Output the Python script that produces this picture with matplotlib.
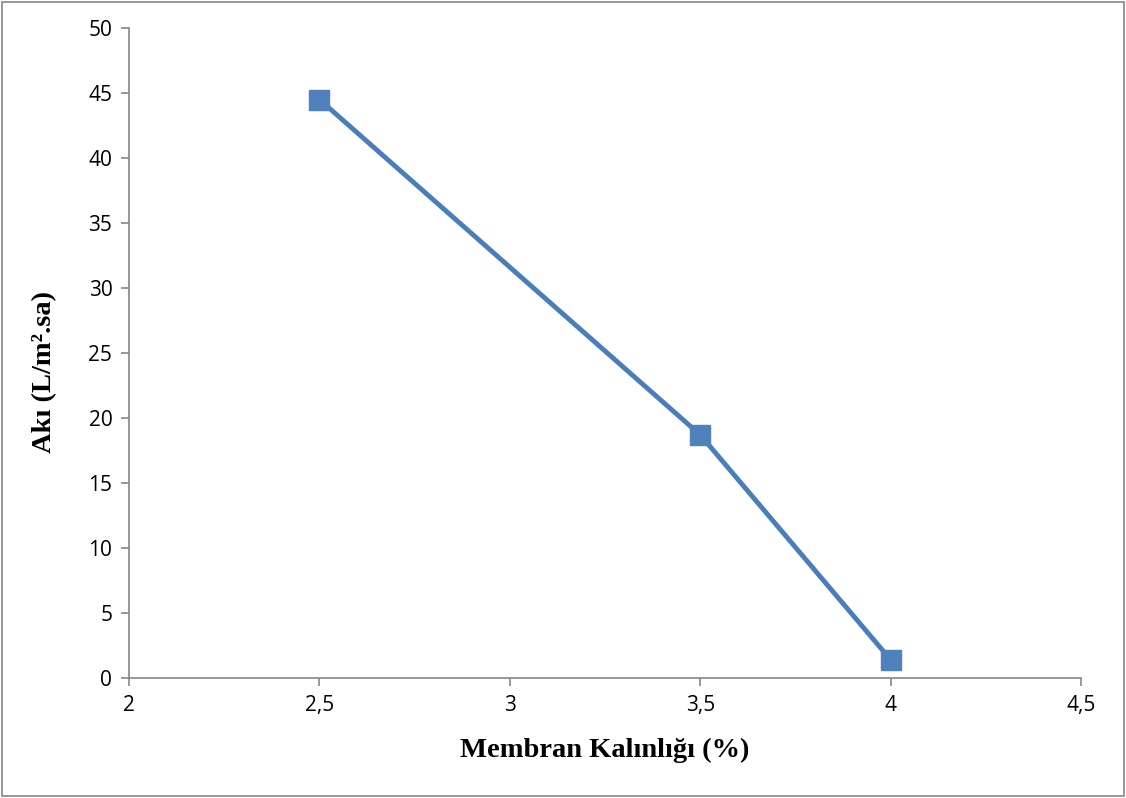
import matplotlib
matplotlib.use('Agg')
import matplotlib.pyplot as plt
from matplotlib.ticker import FuncFormatter

# data
thickness = [2.5, 3.5, 4.0]
flux = [44.5, 18.7, 1.4]

x_ticks = [2, 2.5, 3, 3.5, 4, 4.5]
y_ticks = [0, 5, 10, 15, 20, 25, 30, 35, 40, 45, 50]

fig = plt.figure(figsize=(11.26, 7.98), dpi=100)
ax = fig.add_axes([0.1146, 0.1504, 0.8455, 0.8145])

ax.plot(thickness, flux, color='#4a7ebb', lw=3.5, marker='s', ms=15,
        markerfacecolor='#4f81bd', markeredgecolor='#4f81bd', zorder=3,
        clip_on=False)

ax.set_xlim(2, 4.5)
ax.set_ylim(0, 50)
ax.set_xticks(x_ticks)
ax.set_yticks(y_ticks)


def comma(v, pos):
    s = f'{v:g}'
    return s.replace('.', ',')


ax.xaxis.set_major_formatter(FuncFormatter(comma))

for s in ['top', 'right']:
    ax.spines[s].set_visible(False)
for s in ['left', 'bottom']:
    ax.spines[s].set_color('#868686')
    ax.spines[s].set_linewidth(1.2)
ax.tick_params(axis='both', direction='out', length=6, width=1.2,
               color='#868686', labelsize=15, pad=6)
for lbl in ax.get_xticklabels() + ax.get_yticklabels():
    lbl.set_family('Open Sans')

ax.set_xlabel('Membran Kalınlığı (%)', family='Liberation Serif',
              fontweight='bold', fontsize=20.5, labelpad=16)
ax.set_ylabel('Akı (L/m².sa)', family='Liberation Serif',
              fontweight='bold', fontsize=20.5)
ax.yaxis.set_label_coords(-0.076, 0.47)

# outer chart border
fig.patches.append(plt.Rectangle((0.002, 0.002), 0.996, 0.996,
                                 transform=fig.transFigure, fill=False,
                                 edgecolor='#868686', lw=1.2))

plt.savefig('out.png', dpi=100)
